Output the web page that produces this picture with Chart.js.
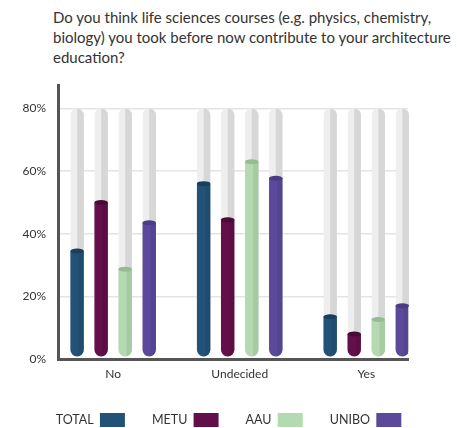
<!DOCTYPE html>
<html>
<head>
<meta charset="utf-8">
<script src="https://cdn.jsdelivr.net/npm/chart.js@4"></script>
<style>
html, body { margin:0; padding:0; background:#fff; overflow:hidden; }
#wrap { position:relative; width:457px; height:428px; }
#title { position:absolute; left:53px; top:7px; font:15px Lato, sans-serif; line-height:20px; color:#333; white-space:nowrap; }
canvas { position:absolute; left:0; top:0; }
</style>
</head>
<body>
<div id="wrap">
  <div id="title">Do you think life sciences courses (e.g. physics, chemistry,<br>biology) you took before now contribute to your architecture<br>education?</div>
  <canvas id="chart" width="457" height="428"></canvas>
</div>
<script>
const categories = ['No', 'Undecided', 'Yes'];
const seriesNames = ['TOTAL', 'METU', 'AAU', 'UNIBO'];
const total = [34.5, 56, 13.5];
const metu = [50, 44.5, 8];
const aau = [28.7, 63, 12.6];
const unibo = [43.5, 57.7, 17];
const yTicks = [0, 20, 40, 60, 80];
const trackMax = 80;

const colors = ['#235279', '#63104a', '#b3dab0', '#5b4a9c'];
const capColors = ['#1a3e5d', '#480b36', '#95bb92', '#4a3c86'];

// grey tube behind every bar, shading + top cap on the bar itself
const tubes = {
  id: 'tubes',
  beforeDatasetsDraw(chart) {
    const ctx = chart.ctx, y = chart.scales.y;
    const top = y.getPixelForValue(trackMax);
    const bottom = y.getPixelForValue(0.8);
    chart.data.datasets.forEach((ds, i) => {
      chart.getDatasetMeta(i).data.forEach(bar => {
        const w = bar.width, x0 = bar.x - w / 2;
        ctx.save();
        ctx.beginPath();
        ctx.roundRect(x0, top, w, bottom - top, w / 2);
        ctx.clip();
        ctx.fillStyle = '#eeeeee';
        ctx.fillRect(x0, top, w, bottom - top);
        ctx.fillStyle = '#d7d7d7';
        ctx.fillRect(bar.x, top, w / 2 + 1, bottom - top);
        ctx.restore();
      });
    });
  },
  afterDatasetsDraw(chart) {
    const ctx = chart.ctx;
    chart.data.datasets.forEach((ds, i) => {
      chart.getDatasetMeta(i).data.forEach(bar => {
        const w = bar.width, x0 = bar.x - w / 2, r = w / 2;
        ctx.save();
        ctx.beginPath();
        ctx.roundRect(x0, bar.y, w, bar.base - bar.y, [0, 0, r, r]);
        ctx.clip();
        ctx.fillStyle = 'rgba(0,0,0,0.07)';
        ctx.fillRect(x0 + w * 0.6, bar.y, w, bar.base - bar.y);
        ctx.restore();
        ctx.beginPath();
        ctx.ellipse(bar.x, bar.y, r, 2.5, 0, 0, Math.PI * 2);
        ctx.fillStyle = capColors[i];
        ctx.fill();
      });
    });
  }
};

const seriesData = [total, metu, aau, unibo];

new Chart(document.getElementById('chart'), {
  type: 'bar',
  data: {
    datasets: seriesNames.map((name, i) => ({
      label: name,
      data: seriesData[i].map((v, j) => ({ x: j, y: v })),
      backgroundColor: colors[i],
      borderWidth: 0,
      borderSkipped: false,
      borderRadius: { topLeft: 0, topRight: 0, bottomLeft: 20, bottomRight: 20 },
      base: 0.8,
      categoryPercentage: 0.76,
      barPercentage: 0.56
    }))
  },
  options: {
    responsive: false,
    animation: false,
    devicePixelRatio: 1,
    layout: { padding: { top: 85, left: 0, right: 0, bottom: -9 } },
    plugins: {
      tooltip: { enabled: false },
      title: { display: false },
      legend: {
        position: 'bottom',
        rtl: true,
        reverse: true,
        labels: {
          boxWidth: 25,
          boxHeight: 14,
          padding: 27,
          color: '#333',
          font: { family: 'Lato', size: 12.5 }
        }
      }
    },
    scales: {
      x: {
        type: 'linear',
        offset: false,
        min: -0.436,
        max: 2.33,
        afterBuildTicks: s => { s.ticks = categories.map((c, i) => ({ value: i })); },
        grid: { display: false, drawTicks: false },
        border: { display: true, color: '#555', width: 3 },
        ticks: {
          color: '#333',
          padding: 8,
          font: { family: 'Lato', size: 12 },
          callback: v => categories[v]
        },
        afterFit: s => { s.height = 27; }
      },
      y: {
        min: 0,
        max: 87.5,
        afterBuildTicks: s => { s.ticks = yTicks.map(v => ({ value: v })); },
        grid: { color: '#e4e4e4', lineWidth: 1.5, drawTicks: false },
        border: { display: true, color: '#555', width: 3 },
        ticks: {
          color: '#333',
          padding: 12,
          font: { family: 'Lato', size: 12 },
          callback: v => v + '%'
        },
        afterFit: s => { s.width = 58; }
      },
      // empty right-hand axis, only keeps the plot clear of the right edge
      yRight: {
        position: 'right',
        grid: { display: false, drawTicks: false },
        border: { display: false },
        ticks: { display: false },
        afterFit: s => { s.width = 49; }
      }
    }
  },
  plugins: [tubes]
});
</script>
</body>
</html>
